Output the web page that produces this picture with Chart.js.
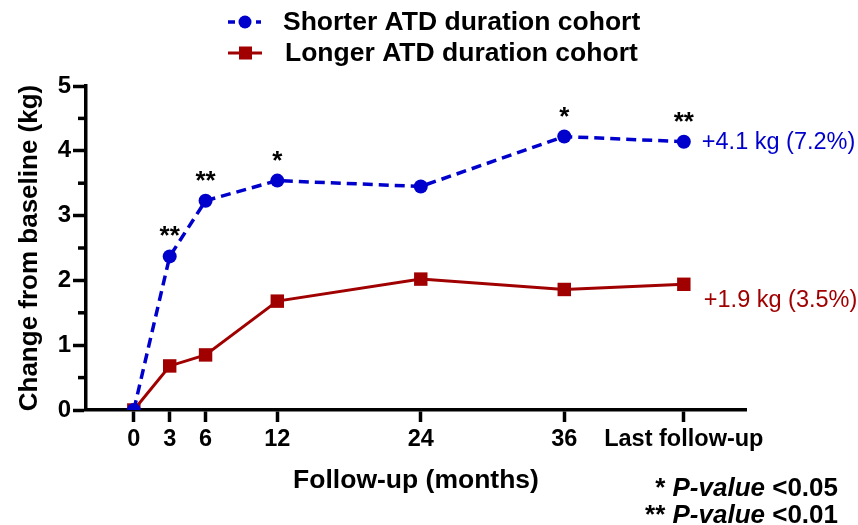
<!DOCTYPE html>
<html>
<head>
<meta charset="utf-8">
<script src="https://cdn.jsdelivr.net/npm/chart.js@4/dist/chart.umd.min.js"></script>
<style>
  html, body { margin: 0; padding: 0; background: #fff; }
  #wrap { width: 858px; height: 525px; position: relative; }
</style>
</head>
<body>
<div id="wrap"><canvas id="c" width="858" height="525"></canvas></div>
<script>
// ---- data ----
const monthValues = [0, 3, 6, 12, 24, 36, 46];
const monthLabels = ['0', '3', '6', '12', '24', '36', 'Last follow-up'];
const shorterValues = [0, 2.37, 3.23, 3.54, 3.45, 4.22, 4.14];
const longerValues  = [0, 0.68, 0.85, 1.68, 2.02, 1.86, 1.94];
const shorterSig = ['', '**', '**', '*', '', '*', '**'];
const seriesNames = ['Shorter ATD duration cohort', 'Longer ATD duration cohort'];
const endLabels = ['+4.1 kg (7.2%)', '+1.9 kg (3.5%)'];
const yTitle = 'Change from baseline (kg)';
const xTitle = 'Follow-up (months)';
const pNotes = [['* ', 'P-value', ' <0.05'], ['** ', 'P-value', ' <0.01']];

const BLUE = '#0000cc';
const RED = '#a00000';
const FONT = '"Liberation Sans", Arial, Helvetica, sans-serif';

const toXY = vals => vals.map((v, i) => ({ x: monthValues[i], y: v }));

const decorPlugin = {
  id: 'decor',
  afterDraw(chart) {
    const ctx = chart.ctx;
    const xs = chart.scales.x, ys = chart.scales.y;
    ctx.save();
    // minor y ticks
    ctx.strokeStyle = '#000';
    ctx.lineWidth = 3.5;
    for (let v = 0.5; v < 5; v += 1) {
      const py = ys.getPixelForValue(v);
      ctx.beginPath();
      ctx.moveTo(xs.left - 8, py);
      ctx.lineTo(xs.left, py);
      ctx.stroke();
    }
    // significance stars
    ctx.fillStyle = '#000';
    ctx.font = 'bold 26px ' + FONT;
    ctx.textAlign = 'center';
    ctx.textBaseline = 'alphabetic';
    shorterSig.forEach((s, i) => {
      if (!s) return;
      const px = xs.getPixelForValue(monthValues[i]);
      const py = ys.getPixelForValue(shorterValues[i]);
      ctx.fillText(s, px, py - 12);
    });
    // end labels
    ctx.font = '23.5px ' + FONT;
    ctx.textAlign = 'left';
    ctx.textBaseline = 'middle';
    const last = monthValues.length - 1;
    const lx = xs.getPixelForValue(monthValues[last]) + 18;
    ctx.fillStyle = BLUE;
    ctx.fillText(endLabels[0], lx, ys.getPixelForValue(shorterValues[last]) + 1);
    ctx.fillStyle = RED;
    ctx.fillText(endLabels[1], lx + 2, ys.getPixelForValue(longerValues[last]) + 16);
    // legend
    ctx.font = 'bold 26.5px ' + FONT;
    ctx.fillStyle = '#000';
    ctx.textBaseline = 'middle';
    const rows = [22, 53];
    // blue symbol
    ctx.strokeStyle = BLUE; ctx.lineWidth = 3.5;
    ctx.beginPath(); ctx.moveTo(228, rows[0]); ctx.lineTo(235, rows[0]); ctx.stroke();
    ctx.beginPath(); ctx.moveTo(256, rows[0]); ctx.lineTo(261, rows[0]); ctx.stroke();
    ctx.fillStyle = BLUE;
    ctx.beginPath(); ctx.arc(245, rows[0], 6.5, 0, Math.PI * 2); ctx.fill();
    // red symbol
    ctx.strokeStyle = RED; ctx.lineWidth = 3;
    ctx.beginPath(); ctx.moveTo(228, rows[1]); ctx.lineTo(262, rows[1]); ctx.stroke();
    ctx.fillStyle = RED;
    ctx.fillRect(239, rows[1] - 6.5, 13, 13);
    ctx.fillStyle = '#000';
    ctx.fillText(seriesNames[0], 283, rows[0] + 1);
    ctx.fillText(seriesNames[1], 285, rows[1] + 1);
    // p-value notes (right aligned)
    const rightX = 838;
    const noteY = [489, 516];
    pNotes.forEach((parts, r) => {
      const fonts = ['bold 26px ' + FONT, 'italic bold 26px ' + FONT, 'bold 26px ' + FONT];
      let widths = parts.map((p, k) => { ctx.font = fonts[k]; return ctx.measureText(p).width; });
      let x = rightX - widths.reduce((a, b) => a + b, 0);
      parts.forEach((p, k) => {
        ctx.font = fonts[k];
        ctx.fillText(p, x, noteY[r]);
        x += widths[k];
      });
    });
    ctx.restore();
  }
};

new Chart(document.getElementById('c'), {
  type: 'line',
  data: {
    datasets: [
      {
        label: seriesNames[0],
        data: toXY(shorterValues),
        borderColor: BLUE,
        backgroundColor: BLUE,
        borderWidth: 3.5,
        borderDash: [10, 6],
        pointStyle: 'circle',
        pointRadius: 7,
        pointBorderWidth: 0,
        tension: 0
      },
      {
        label: seriesNames[1],
        data: toXY(longerValues),
        borderColor: RED,
        backgroundColor: RED,
        borderWidth: 3,
        pointStyle: 'rect',
        pointRadius: 9.5,
        pointBorderWidth: 0,
        tension: 0
      }
    ]
  },
  options: {
    responsive: false,
    animation: false,
    devicePixelRatio: 1,
    layout: { padding: { top: 86, right: 112, left: 0, bottom: 0 } },
    plugins: { legend: { display: false }, tooltip: { enabled: false } },
    scales: {
      x: {
        type: 'linear',
        min: -4,
        max: 51.2,
        afterBuildTicks: s => { s.ticks = monthValues.map(v => ({ value: v })); },
        afterFit: s => { s.height = 115; },
        ticks: {
          autoSkip: false,
          maxRotation: 0,
          color: '#000',
          padding: 3,
          font: { family: FONT, size: 23.5, weight: 'bold' },
          callback: (v, i) => monthLabels[i]
        },
        grid: { drawOnChartArea: false, drawTicks: true, tickLength: 12, tickColor: '#000', tickWidth: 3.5 },
        border: { color: '#000', width: 3.5 },
        title: {
          display: true, text: xTitle, color: '#000',
          font: { family: FONT, size: 26.5, weight: 'bold' },
          padding: { top: 0, bottom: 28 }
        }
      },
      y: {
        min: 0,
        max: 5,
        afterFit: s => { s.width = 86; },
        ticks: {
          stepSize: 0.5,
          color: '#000',
          padding: 2,
          font: { family: FONT, size: 24, weight: 'bold' },
          callback: v => (Number.isInteger(v) ? String(v) : '')
        },
        grid: {
          drawOnChartArea: false, drawTicks: true, tickLength: 13, tickWidth: 3.5,
          tickColor: c => (c.tick && Number.isInteger(c.tick.value) ? '#000' : 'rgba(0,0,0,0)')
        },
        border: { color: '#000', width: 3.5 },
        title: {
          display: true, text: yTitle, color: '#000',
          font: { family: FONT, size: 26, weight: 'bold' },
          padding: { top: 14, bottom: 0 }
        }
      }
    }
  },
  plugins: [decorPlugin]
});
</script>
</body>
</html>
